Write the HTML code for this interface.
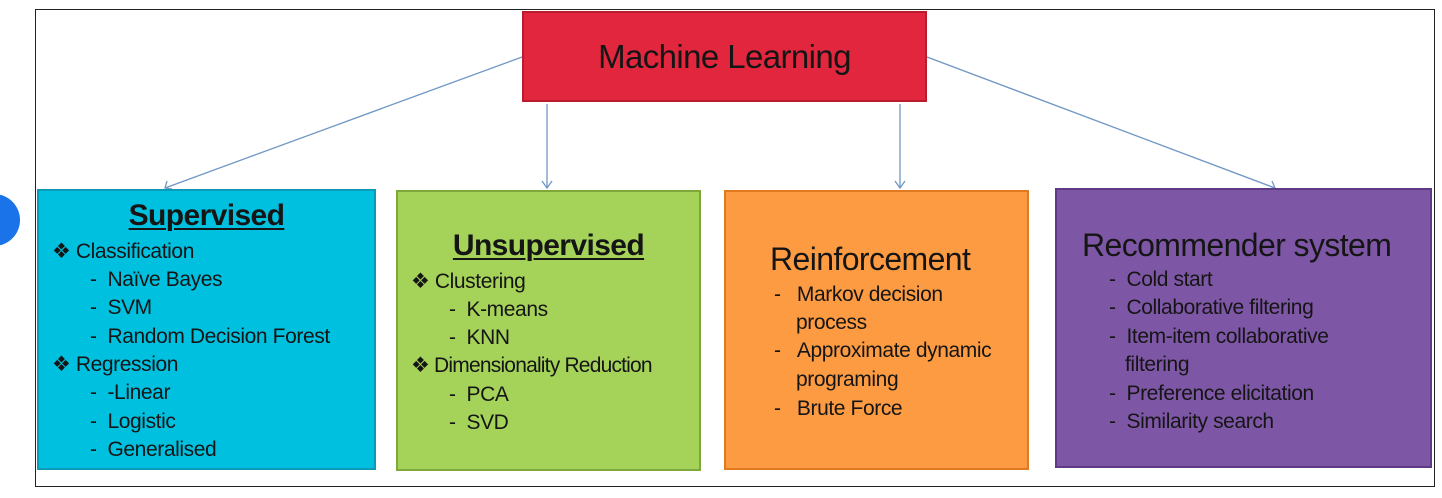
<!DOCTYPE html>
<html><head><meta charset="utf-8"><style>
body{margin:0;width:1442px;height:498px;background:#fff;position:relative;overflow:hidden;font-family:"Liberation Sans",sans-serif;}
.a{position:absolute;}
.t{position:absolute;white-space:nowrap;font-size:21px;line-height:26px;color:#151515;transform:translateY(-13px);letter-spacing:-0.4px}
.h{font-size:32px;line-height:38px;transform:translateY(-19px);letter-spacing:-0.6px}
.u{font-weight:bold;font-size:30px;text-decoration:underline;text-decoration-thickness:2px;text-underline-offset:3px}
</style></head><body>
<div class="a" style="left:-32px;top:194px;width:52px;height:52px;border-radius:50%;background:#1a73e8"></div>
<div class="a" style="left:35px;top:9px;width:1400px;height:478px;border:1.5px solid #222;box-sizing:border-box"></div>
<svg class="a" style="left:0;top:0" width="1442" height="498">
<g stroke="#6f97c4" stroke-width="1.3" fill="none">
<line x1="522" y1="57" x2="165" y2="188"/><polyline points="167,181 165,188 172,189"/>
<line x1="547" y1="104" x2="547" y2="188"/><polyline points="542,181 547,188 552,181"/>
<line x1="900" y1="104" x2="900" y2="188"/><polyline points="895,181 900,188 905,181"/>
<line x1="927" y1="57" x2="1275" y2="188"/><polyline points="1268,189 1275,188 1272,181"/>
</g></svg>
<div class="a" style="left:522px;top:11px;width:405px;height:91px;background:#e2263d;border:2px solid #b81c2e;box-sizing:border-box"></div>
<div class="t h" style="left:522px;width:405px;text-align:center;top:57px;font-size:33px">Machine Learning</div>
<div class="a" style="left:37px;top:189px;width:339px;height:281px;background:#00c0e0;border:2px solid #0b9bb8;box-sizing:border-box"></div>
<div class="a" style="left:396px;top:190px;width:305px;height:281px;background:#a5d35a;border:2px solid #7fa83a;box-sizing:border-box"></div>
<div class="a" style="left:724px;top:190px;width:305px;height:280px;background:#fd9b43;border:2px solid #e07a20;box-sizing:border-box"></div>
<div class="a" style="left:1055px;top:188px;width:377px;height:280px;background:#7e56a6;border:2px solid #5e3c85;box-sizing:border-box"></div>

<div class="t h u" style="left:37px;width:339px;text-align:center;top:216px">Supervised</div>
<div class="t" style="left:52px;top:252px">❖ Classification</div>
<div class="t" style="left:90px;top:280px">-&nbsp;&nbsp;Naïve Bayes</div>
<div class="t" style="left:90px;top:308px">-&nbsp;&nbsp;SVM</div>
<div class="t" style="left:90px;top:337px">-&nbsp;&nbsp;Random Decision Forest</div>
<div class="t" style="left:52px;top:365px">❖ Regression</div>
<div class="t" style="left:90px;top:393px">-&nbsp;&nbsp;-Linear</div>
<div class="t" style="left:90px;top:422px">-&nbsp;&nbsp;Logistic</div>
<div class="t" style="left:90px;top:450px">-&nbsp;&nbsp;Generalised</div>

<div class="t h u" style="left:396px;width:305px;text-align:center;top:246px">Unsupervised</div>
<div class="t" style="left:411px;top:282px">❖ Clustering</div>
<div class="t" style="left:449px;top:310px">-&nbsp;&nbsp;K-means</div>
<div class="t" style="left:449px;top:338px">-&nbsp;&nbsp;KNN</div>
<div class="t" style="left:411px;top:366px;letter-spacing:-0.8px">❖ Dimensionality Reduction</div>
<div class="t" style="left:449px;top:395px">-&nbsp;&nbsp;PCA</div>
<div class="t" style="left:449px;top:423px">-&nbsp;&nbsp;SVD</div>

<div class="t h" style="left:770px;top:259px">Reinforcement</div>
<div class="t" style="left:774px;top:295px">-&nbsp;&nbsp;&nbsp;Markov decision</div>
<div class="t" style="left:796px;top:323px">process</div>
<div class="t" style="left:774px;top:351px">-&nbsp;&nbsp;&nbsp;Approximate dynamic</div>
<div class="t" style="left:796px;top:380px">programing</div>
<div class="t" style="left:774px;top:409px">-&nbsp;&nbsp;&nbsp;Brute Force</div>

<div class="t h" style="left:1082px;top:245px">Recommender system</div>
<div class="t" style="left:1109px;top:280px">-&nbsp;&nbsp;Cold start</div>
<div class="t" style="left:1109px;top:308px">-&nbsp;&nbsp;Collaborative filtering</div>
<div class="t" style="left:1109px;top:337px">-&nbsp;&nbsp;Item-item collaborative</div>
<div class="t" style="left:1125px;top:365px">filtering</div>
<div class="t" style="left:1109px;top:394px">-&nbsp;&nbsp;Preference elicitation</div>
<div class="t" style="left:1109px;top:422px">-&nbsp;&nbsp;Similarity search</div>
</body></html>
